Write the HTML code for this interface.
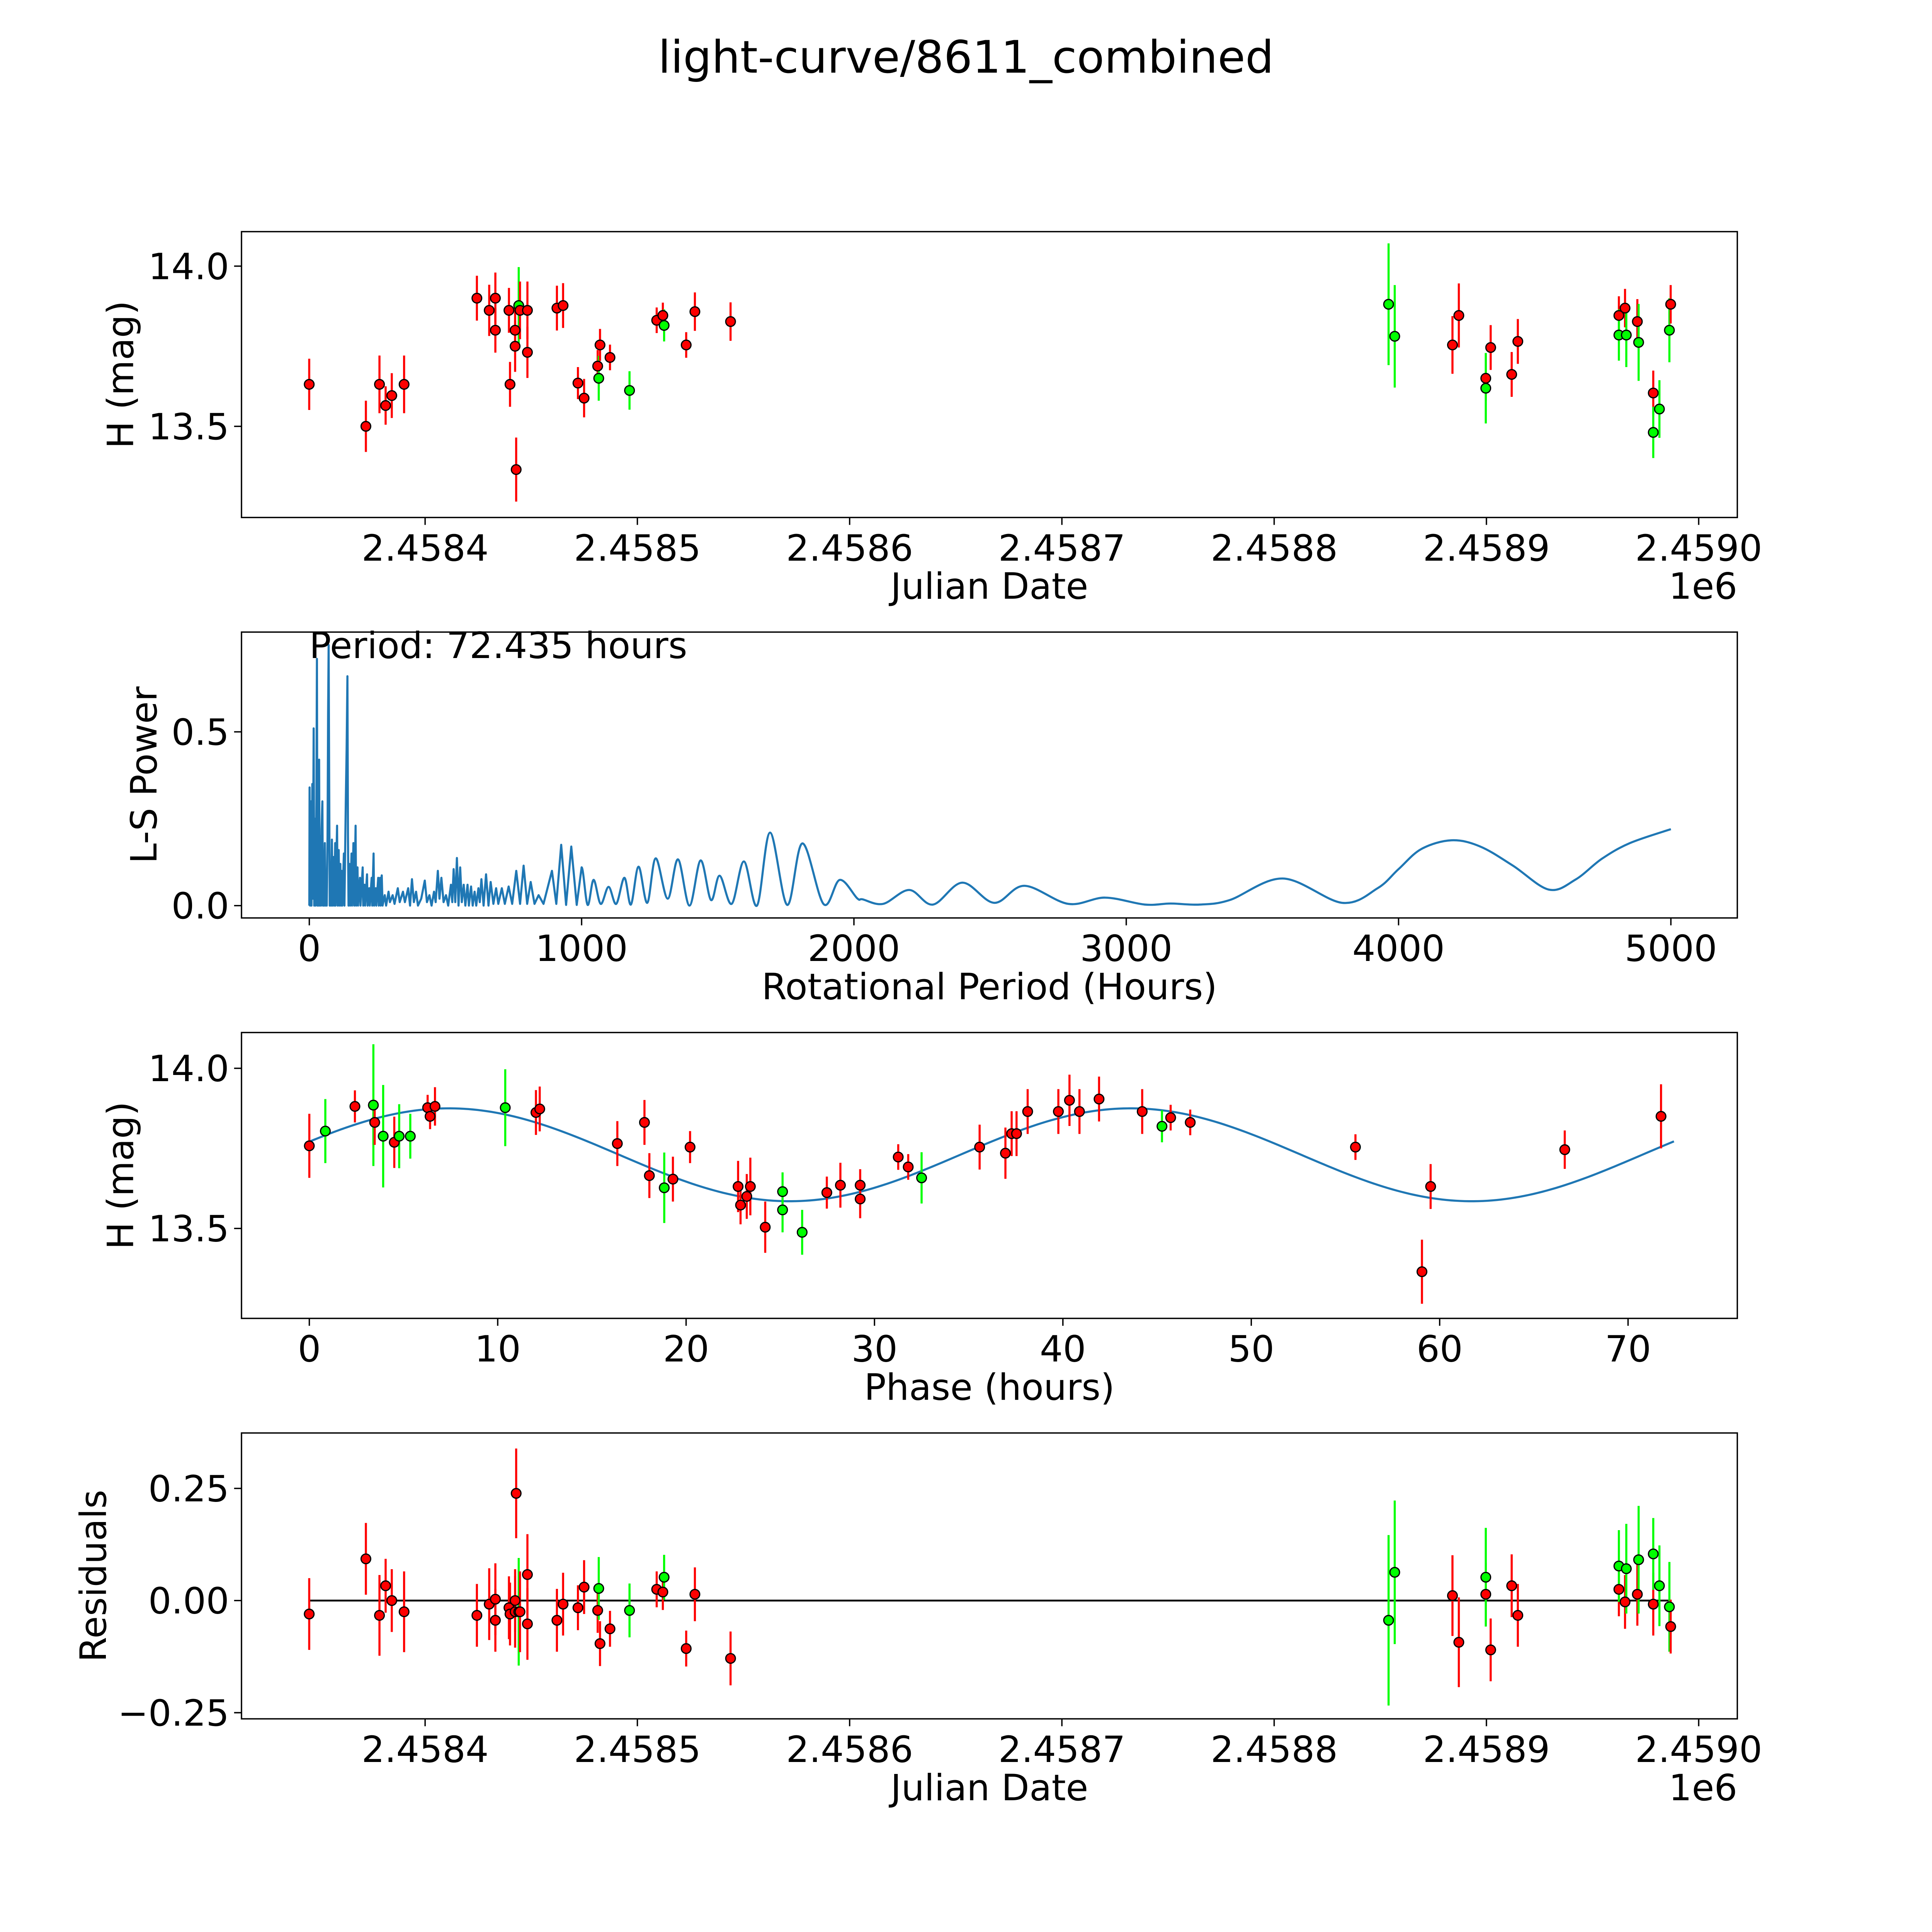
<!DOCTYPE html>
<html><head><meta charset="utf-8"><style>
html,body{margin:0;padding:0;background:#fff;overflow:hidden;width:100vw;height:100vh;}
svg{display:block;width:100vw;height:100vh;}
text{font-family:"DejaVu Sans","Liberation Sans",sans-serif;fill:#000;}
</style></head>
<body>
<svg id="fig" xmlns="http://www.w3.org/2000/svg" viewBox="0 0 1568 1568" preserveAspectRatio="none">
<rect x="0" y="0" width="1568" height="1568" fill="#fff"/>
<text x="784" y="59" font-size="36.5" text-anchor="middle">light-curve/8611_combined</text>
</svg>
<script>
// ---- Panel 1 / 4 data: observations ----
const obsJd = [2458345.4,2458372.1,2458378.5,2458381.4,2458384.3,2458390.1,2458424.4,2458430.2,2458433.1,2458433.1,2458439.5,2458440.0,2458442.4,2458442.4,2458442.9,2458444.1,2458444.7,2458448.2,2458448.2,2458462.1,2458465.0,2458472.0,2458474.9,2458481.3,2458481.8,2458482.4,2458487.1,2458496.3,2458509.1,2458512.0,2458512.6,2458523.0,2458527.1,2458543.9,2458853.9,2458856.8,2458884.0,2458887.0,2458899.7,2458899.7,2458902.0,2458911.9,2458914.8,2458962.4,2458962.4,2458965.3,2458965.9,2458971.1,2458971.7,2458978.6,2458978.6,2458981.5,2458986.2,2458986.8];
const obsMag = [13.631,13.50,13.631,13.565,13.596,13.631,13.90,13.862,13.90,13.80,13.862,13.631,13.80,13.75,13.365,13.877,13.862,13.862,13.731,13.869,13.877,13.635,13.588,13.688,13.65,13.754,13.715,13.612,13.831,13.846,13.815,13.754,13.858,13.827,13.881,13.781,13.754,13.846,13.65,13.619,13.746,13.662,13.765,13.846,13.785,13.869,13.785,13.827,13.762,13.604,13.481,13.554,13.80,13.881];
const obsErr = [0.08,0.08,0.09,0.06,0.07,0.09,0.07,0.08,0.08,0.07,0.07,0.07,0.07,0.08,0.1,0.12,0.09,0.09,0.08,0.07,0.07,0.05,0.06,0.05,0.07,0.05,0.04,0.06,0.04,0.04,0.05,0.04,0.06,0.06,0.19,0.16,0.09,0.1,0.07,0.11,0.07,0.07,0.07,0.06,0.08,0.06,0.1,0.07,0.12,0.07,0.08,0.09,0.1,0.06];
const obsBand = ['r','r','r','r','r','r','r','r','r','r','r','r','r','r','r','g','r','r','r','r','r','r','r','r','g','r','r','g','r','r','g','r','r','r','g','g','r','r','r','g','r','r','r','r','g','r','g','r','g','r','g','g','g','r'];
const residuals = [-0.03,0.093,-0.033,0.033,0.0,-0.025,-0.033,-0.008,0.003,-0.044,-0.016,-0.03,0.0,-0.025,0.239,-0.025,-0.025,0.058,-0.052,-0.044,-0.008,-0.016,0.03,-0.022,0.027,-0.096,-0.063,-0.022,0.025,0.019,0.052,-0.107,0.014,-0.129,-0.044,0.063,0.011,-0.093,0.014,0.052,-0.11,0.033,-0.033,0.025,0.077,-0.003,0.071,0.014,0.091,-0.008,0.104,0.033,-0.014,-0.058];
// ---- Panel 3 data: phased ----
const phaseHrs = [0,0.85,2.42,3.40,3.47,3.92,4.51,4.77,5.36,6.28,6.41,6.67,10.4,12.03,12.23,16.35,17.79,18.05,18.84,19.3,20.21,22.76,22.89,23.22,23.41,24.2,25.12,25.12,26.16,27.47,28.19,29.24,29.24,31.26,31.79,32.5,35.58,36.95,37.28,37.54,38.13,39.76,40.35,40.88,41.92,44.21,45.26,45.72,46.76,55.53,59.06,59.52,66.64,71.75];
const phaseMag = [13.758,13.804,13.881,13.885,13.831,13.788,13.769,13.788,13.788,13.877,13.85,13.881,13.877,13.862,13.873,13.765,13.831,13.665,13.627,13.654,13.754,13.631,13.573,13.6,13.631,13.504,13.615,13.558,13.488,13.612,13.635,13.635,13.592,13.723,13.692,13.658,13.754,13.735,13.796,13.796,13.865,13.865,13.9,13.865,13.904,13.865,13.819,13.846,13.831,13.754,13.365,13.631,13.746,13.85];
const phaseErr = [0.1,0.1,0.05,0.19,0.07,0.16,0.08,0.1,0.07,0.04,0.04,0.06,0.12,0.07,0.07,0.07,0.07,0.07,0.11,0.07,0.05,0.08,0.06,0.07,0.09,0.08,0.06,0.07,0.07,0.05,0.07,0.05,0.06,0.04,0.04,0.08,0.07,0.08,0.07,0.07,0.07,0.07,0.08,0.07,0.07,0.07,0.05,0.04,0.04,0.04,0.1,0.07,0.06,0.1];
const phaseBand = ['r','g','r','g','r','g','r','g','g','r','r','r','g','r','r','r','r','r','g','r','r','r','r','r','r','r','g','g','g','r','r','r','r','r','r','g','r','r','r','r','r','r','r','r','r','r','g','r','r','r','r','r','r','r'];
const modelParams = [13.73, 0.145, 36.2, 7.4]; // mean, amplitude, half-period, peak phase
const foldPeriod = 72.435;
// ---- Panel 2 data: periodogram ----
const lsPeriod = [0,1,3,6,8,11,13,16,18,21,23,26,28,30,32,33,36,38,41,43,45,48,50,53,54,57,59,62,64,67,69,71,73,75,78,80,83,85,89,91,95,96,99,102,104,108,110,114,116,119,121,127,129,134,137,140,142,144,148,150,155,157,162,165,170,172,177,179,186,188,196,198,203,205,212,214,220,222,229,231,236,238,244,246,253,255,260,262,266,269,277,282,291,296,306,313,325,332,344,351,363,370,377,384,392,399,411,424,432,441,449,458,464,472,478,485,493,502,510,520,525,530,536,542,548,554,560,567,573,581,586,594,600,607,613,621,626,632,640,649,658,666,676,686,694,707,718,732,745,760,774,787,800,813,827,842,860,891,907,925,943,962,982,1000,1022,1044,1070,1099,1127,1157,1181,1209,1241,1272,1316,1354,1396,1437,1475,1507,1551,1596,1644,1692,1755,1811,1889,1948,2012,2032,2107,2203,2290,2398,2515,2626,2787,2922,3068,3163,3270,3380,3575,3793,3923,4000,4084,4195,4300,4420,4552,4650,4747,4850,5000];
const lsPower = [0,.34,0,.30,0,.35,.02,.51,0,.25,0,.3,.71,0,.28,0,.42,0,.2,0,.22,.3,0,.15,0,.18,0,.1,0,.2,.55,.75,.35,0,.12,0,.19,0,.14,0,.18,0,.12,.23,0,.16,0,.12,0,.1,0,.15,0,.3,.45,.66,.2,0,.12,0,.15,0,.18,0,.23,0,.11,0,.08,0,.11,0,.06,0,.09,0,.05,0,.08,0,.15,0,.05,0,.08,0,.08,0,.087,0,.03,0,.04,.01,.03,.005,.05,.01,.04,.01,.05,0,.076,.01,.04,0,.02,.072,.01,.03,0,.04,.01,.10,.02,.08,.01,.03,0,.06,.01,.105,.01,.137,0,.11,.01,.06,0,.06,0,.055,0,.04,0,.05,.01,.076,0,.09,0,.068,.005,.05,.005,.05,.005,.055,.005,.10,.005,.115,.005,.068,.005,.03,.005,.10,.005,.175,.002,.17,.002,.11,.002,.074,.005,.054,.005,.08,.003,.112,.008,.136,.02,.133,0,.13,.016,.086,.005,.127,0,.21,.002,.179,.004,.074,.021,.018,.005,.045,.003,.066,.008,.057,.005,.023,.003,.006,.003,.016,.078,.008,.05,.105,.163,.188,.17,.115,.046,.075,.135,.18,.22];

const NS = 'http://www.w3.org/2000/svg';
const svg = document.getElementById('fig');
function mk(tag, attrs, parent) {
  const e = document.createElementNS(NS, tag);
  for (const k in attrs) e.setAttribute(k, attrs[k]);
  (parent || svg).appendChild(e);
  return e;
}
const L = 196, R = 1410;
const FS = 29.5;
function scale(d0, d1, p0, p1) { return v => p0 + (v - d0) * (p1 - p0) / (d1 - d0); }

function makeAxes(name, top, bottom, xDom, yDom, xTicks, xLabels, yTicks, yLabels, xTitle, yTitle, yTitleX) {
  const g = mk('g', {});
  
  
  const sx = scale(xDom[0], xDom[1], L, R);
  const sy = scale(yDom[0], yDom[1], bottom, top);
  const plot = mk('g', {}, g);
  
  
  const tg = mk('g', {}, g);
  
  
  xTicks.forEach((t, i) => {
    const x = sx(t);
    const tl = mk('line', {x1: x, x2: x, y1: bottom, y2: bottom + 6, stroke: '#000', 'stroke-width': 1.1}, tg);
    
    
    const tx = mk('text', {x: x, y: bottom + 35, 'font-size': FS, 'text-anchor': 'middle'}, tg);
    
    
    tx.textContent = xLabels[i];
  });
  yTicks.forEach((t, i) => {
    const y = sy(t);
    const tl = mk('line', {x1: L - 6, x2: L, y1: y, y2: y, stroke: '#000', 'stroke-width': 1.1}, tg);
    
    
    const tx = mk('text', {x: L - 10, y: y + 10.5, 'font-size': FS, 'text-anchor': 'end'}, tg);
    
    
    tx.textContent = yLabels[i];
  });
  const xt = mk('text', {x: 803, y: bottom + 66, 'font-size': FS, 'text-anchor': 'middle'}, g);
  
  
  xt.textContent = xTitle;
  const cy = (top + bottom) / 2;
  const yt = mk('text', {x: yTitleX, y: cy, 'font-size': FS, 'text-anchor': 'middle', transform: 'rotate(-90 ' + yTitleX + ' ' + cy + ')'}, g);
  
  
  yt.textContent = yTitle;
  const fr = mk('rect', {x: L, y: top, width: R - L, height: bottom - top, fill: 'none', stroke: '#000', 'stroke-width': 1.1}, g);
  
  
  return {sx, sy, plot, g};
}

function drawPoints(ax, xs, ys, errs, bands, prefix) {
  xs.forEach((xv, i) => {
    const x = ax.sx(xv);
    const col = bands[i] === 'g' ? '#00ff00' : '#ff0000';
    const eb = mk('line', {x1: x, x2: x, y1: ax.sy(ys[i] + errs[i]), y2: ax.sy(ys[i] - errs[i]), stroke: col, 'stroke-width': 1.7}, ax.plot);
    
    
  });
  xs.forEach((xv, i) => {
    const x = ax.sx(xv), y = ax.sy(ys[i]);
    const col = bands[i] === 'g' ? '#00ff00' : '#ff0000';
    const c = mk('circle', {cx: x, cy: y, r: 3.9, fill: col, stroke: '#000', 'stroke-width': 1}, ax.plot);
    
    
  });
}

const jdTicks = [2458400,2458500,2458600,2458700,2458800,2458900,2459000];
const jdLabels = ['2.4584','2.4585','2.4586','2.4587','2.4588','2.4589','2.4590'];
const jdDom = [2458313.5, 2459018.2];

// Panel 1
const ax1 = makeAxes('light-curve-panel', 188, 420, jdDom, [13.2154, 14.1077], jdTicks, jdLabels, [13.5, 14.0], ['13.5', '14.0'], 'Julian Date', 'H (mag)', 108);
drawPoints(ax1, obsJd, obsMag, obsErr, obsBand, 'observation');
const e1 = mk('text', {x: 1410, y: 486, 'font-size': FS, 'text-anchor': 'end'});


e1.textContent = '1e6';

// Panel 2
const ax2 = makeAxes('periodogram-panel', 513, 745, [-249, 5244], [-0.0355, 0.787], [0,1000,2000,3000,4000,5000], ['0','1000','2000','3000','4000','5000'], [0.0, 0.5], ['0.0', '0.5'], 'Rotational Period (Hours)', 'L-S Power', 127);
(function(){
  const pts = lsPeriod.map((p, i) => [ax2.sx(p), ax2.sy(lsPower[i])]);
  let d = 'M' + pts[0][0].toFixed(2) + ',' + pts[0][1].toFixed(2);
  for (let i = 1; i < pts.length; i++) {
    if (lsPeriod[i] <= 1000) { d += 'L' + pts[i][0].toFixed(2) + ',' + pts[i][1].toFixed(2); continue; }
    const p0 = pts[Math.max(i - 2, 0)], p1 = pts[i - 1], p2 = pts[i], p3 = pts[Math.min(i + 1, pts.length - 1)];
    const c1 = [p1[0] + (p2[0] - p0[0]) / 6, p1[1] + (p2[1] - p0[1]) / 6];
    const c2 = [p2[0] - (p3[0] - p1[0]) / 6, p2[1] - (p3[1] - p1[1]) / 6];
    d += 'C' + c1[0].toFixed(2) + ',' + c1[1].toFixed(2) + ' ' + c2[0].toFixed(2) + ',' + c2[1].toFixed(2) + ' ' + p2[0].toFixed(2) + ',' + p2[1].toFixed(2);
  }
  const path = mk('path', {d: d, fill: 'none', stroke: '#1f77b4', 'stroke-width': 1.7, 'stroke-linejoin': 'round'}, ax2.plot);
  
  
})();
const pt = mk('text', {x: 251, y: 534, 'font-size': FS});


pt.textContent = 'Period: 72.435 hours';

// Panel 3
const ax3 = makeAxes('phased-panel', 838, 1070, [-3.6, 75.8], [13.2193, 14.1116], [0,10,20,30,40,50,60,70], ['0','10','20','30','40','50','60','70'], [13.5, 14.0], ['13.5', '14.0'], 'Phase (hours)', 'H (mag)', 108);
(function(){
  let d = '';
  for (let i = 0; i <= 300; i++) {
    const p = foldPeriod * i / 300;
    const m = modelParams[0] + modelParams[1] * Math.cos(2 * Math.PI * (p - modelParams[3]) / modelParams[2]);
    d += (i ? 'L' : 'M') + ax3.sx(p).toFixed(2) + ',' + ax3.sy(m).toFixed(2);
  }
  const path = mk('path', {d: d, fill: 'none', stroke: '#1f77b4', 'stroke-width': 1.7}, ax3.plot);
  
  
})();
drawPoints(ax3, phaseHrs, phaseMag, phaseErr, phaseBand, 'phased-observation');

// Panel 4
const ax4 = makeAxes('residuals-panel', 1163, 1395, jdDom, [-0.2637, 0.3736], jdTicks, jdLabels, [-0.25, 0, 0.25], ['\u22120.25', '0.00', '0.25'], 'Julian Date', 'Residuals', 86);
(function(){
  const zl = mk('line', {x1: ax4.sx(obsJd[0]), x2: ax4.sx(obsJd[obsJd.length - 1]), y1: ax4.sy(0), y2: ax4.sy(0), stroke: '#000', 'stroke-width': 1.5}, ax4.plot);
  
  
})();
drawPoints(ax4, obsJd, residuals, obsErr, obsBand, 'residual');
const e4 = mk('text', {x: 1410, y: 1461, 'font-size': FS, 'text-anchor': 'end'});


e4.textContent = '1e6';
</script>
</body></html>
